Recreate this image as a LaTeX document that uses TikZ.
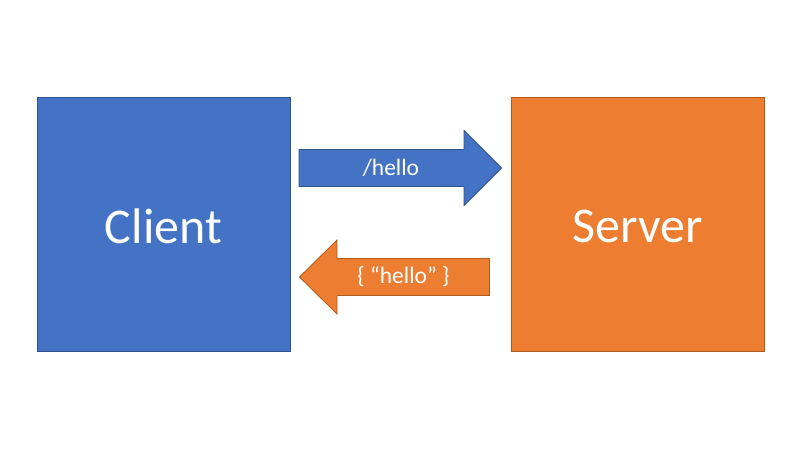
\documentclass[tikz,border=0pt]{standalone}
\usepackage{fontspec}
\setmainfont{Carlito}
\definecolor{cblue}{HTML}{4472C4}
\definecolor{cblueb}{HTML}{2F528F}
\definecolor{corange}{HTML}{ED7D31}
\definecolor{coranb}{HTML}{AE5A21}
\begin{document}
\begin{tikzpicture}[x=1pt,y=-1pt,
  bluebox/.style={fill=cblue,draw=cblueb,line width=0.8pt},
  orangebox/.style={fill=corange,draw=coranb,line width=0.8pt},
  lbl/.style={text=white,font=\fontsize{23.5}{28}\selectfont},
  big/.style={text=white,font=\fontsize{50}{60}\selectfont}]
\useasboundingbox (0,0) rectangle (800,449);
\draw[bluebox] (37,97.5) rectangle (290,351.5);
\node[big] (client) at (163.5,226) {Client};
\draw[orangebox] (511,97.5) rectangle (764.5,351.5);
\node[big] (server) at (637.5,226) {Server};
\draw[bluebox] (299,149.5) -- (464,149.5) -- (464,130.5) -- (501.5,168) -- (464,205.5) -- (464,186.5) -- (299,186.5) -- cycle;
\node[lbl] (req) at (391,168) {/hello};
\draw[orangebox] (489.5,258.5) -- (337,258.5) -- (337,240) -- (299.5,277) -- (337,314) -- (337,295.5) -- (489.5,295.5) -- cycle;
\node[lbl] (resp) at (403.5,277) {\{ “hello” \}};
\end{tikzpicture}
\end{document}
